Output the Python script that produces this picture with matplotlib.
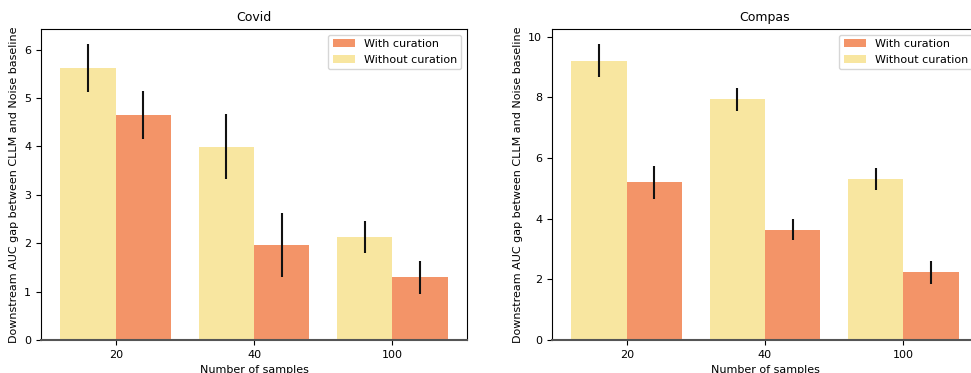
import matplotlib
matplotlib.use("Agg")
import matplotlib.pyplot as plt
import numpy as np

categories = ["20", "40", "100"]

covid_without = [5.62, 3.99, 2.13]
covid_without_err = [0.50, 0.67, 0.33]
covid_with = [4.65, 1.96, 1.30]
covid_with_err = [0.50, 0.66, 0.34]

compas_without = [9.21, 7.93, 5.31]
compas_without_err = [0.55, 0.37, 0.37]
compas_with = [5.19, 3.64, 2.23]
compas_with_err = [0.55, 0.36, 0.37]

titles = ["Covid", "Compas"]
ylabel = "Downstream AUC gap between CLLM and Noise baseline"
xlabel = "Number of samples"

c_with = "#F39468"
c_without = "#F8E6A0"

W, H = 971, 373
fig = plt.figure(figsize=(W / 100, H / 100), dpi=100)
fs = 8

lefts = [41, 552]
for i, (title, wo, woe, wi, wie) in enumerate([
        ("Covid", covid_without, covid_without_err, covid_with, covid_with_err),
        ("Compas", compas_without, compas_without_err, compas_with, compas_with_err)]):
    ax = fig.add_axes([lefts[i] / W, (H - 340) / H, 426 / W, 311 / H])
    x = np.arange(len(categories))
    ax.bar(x - 0.2, wo, width=0.4, color=c_without, label="Without curation")
    ax.bar(x + 0.2, wi, width=0.4, color=c_with, label="With curation")
    ax.errorbar(x - 0.2, wo, yerr=woe, fmt="none", ecolor="#111111", elinewidth=1.5)
    ax.errorbar(x + 0.2, wi, yerr=wie, fmt="none", ecolor="#111111", elinewidth=1.5)
    ax.set_xticks(x)
    ax.set_xticklabels(categories, fontsize=fs)
    ax.tick_params(axis="both", labelsize=fs, length=3.5)
    ax.set_title(title, fontsize=9)
    ax.set_ylabel(ylabel, fontsize=fs)
    ax.set_xlabel(xlabel, fontsize=fs)
    ax.spines["bottom"].set_color("#555555")
    ax.spines["bottom"].set_linewidth(1.5)
    h, l = ax.get_legend_handles_labels()
    ax.legend([h[1], h[0]], [l[1], l[0]], loc="upper right", fontsize=fs)

fig.savefig("out.png", dpi=100)
